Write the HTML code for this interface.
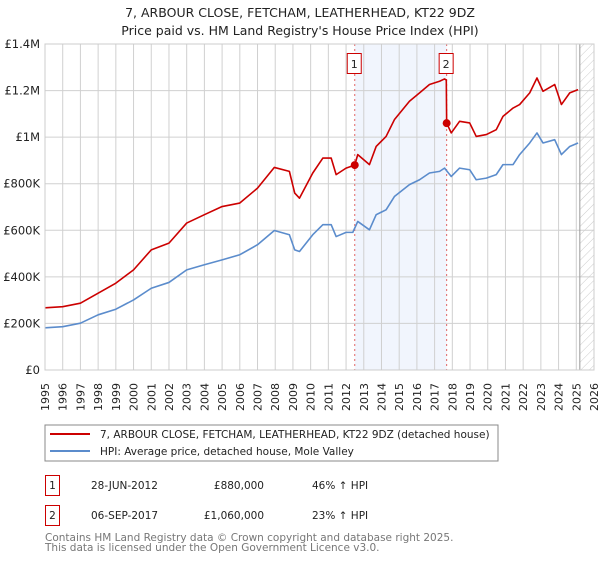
<!DOCTYPE html>
<html><head><meta charset="utf-8">
<style>
body{margin:0;background:#fff;font-family:"DejaVu Sans","Liberation Sans",sans-serif;}
svg text{font-family:"DejaVu Sans","Liberation Sans",sans-serif;}
</style></head>
<body>
<svg id="chart" width="600" height="560" viewBox="0 0 600 560" xmlns="http://www.w3.org/2000/svg">
<defs>
<pattern id="hatch" width="6" height="6" patternUnits="userSpaceOnUse" patternTransform="rotate(45)">
<line x1="0" y1="0" x2="0" y2="6" stroke="#ccc" stroke-width="1"/>
</pattern>
</defs>
<text x="300" y="17" text-anchor="middle" font-size="12.5" fill="#222">7, ARBOUR CLOSE, FETCHAM, LEATHERHEAD, KT22 9DZ</text>
<text x="300" y="35" text-anchor="middle" font-size="12.5" fill="#222">Price paid vs. HM Land Registry's House Price Index (HPI)</text>
<g id="grid"></g>
<g id="series"></g>
<g id="axes"></g>
<rect x="45" y="425" width="453" height="36" fill="#fff" stroke="#888"/>
<line x1="50" y1="434" x2="90" y2="434" stroke="#cc0000" stroke-width="2"/>
<text x="100" y="438" font-size="10.5" fill="#222">7, ARBOUR CLOSE, FETCHAM, LEATHERHEAD, KT22 9DZ (detached house)</text>
<line x1="50" y1="451" x2="90" y2="451" stroke="#5b8ccc" stroke-width="2"/>
<text x="100" y="455" font-size="10.5" fill="#222">HPI: Average price, detached house, Mole Valley</text>
<rect x="45.5" y="475.5" width="14" height="20" fill="#fff" stroke="#cc0000"/>
<text x="52.5" y="489" text-anchor="middle" font-size="10.5" fill="#222">1</text>
<text x="91" y="489" font-size="10.5" fill="#222">28-JUN-2012</text>
<text x="264" y="489" text-anchor="end" font-size="10.5" fill="#222">£880,000</text>
<text x="312" y="489" font-size="10.5" fill="#222">46% ↑ HPI</text>
<rect x="45.5" y="505.5" width="14" height="20" fill="#fff" stroke="#cc0000"/>
<text x="52.5" y="519" text-anchor="middle" font-size="10.5" fill="#222">2</text>
<text x="91" y="519" font-size="10.5" fill="#222">06-SEP-2017</text>
<text x="264" y="519" text-anchor="end" font-size="10.5" fill="#222">£1,060,000</text>
<text x="312" y="519" font-size="10.5" fill="#222">23% ↑ HPI</text>
<text x="45" y="541" font-size="10.5" fill="#777">Contains HM Land Registry data © Crown copyright and database right 2025.</text>
<text x="45" y="551" font-size="10.5" fill="#777">This data is licensed under the Open Government Licence v3.0.</text>
</svg>
<script>
const years=[1995,1996,1997,1998,1999,2000,2001,2002,2003,2004,2005,2006,2007,2007.95,2008.8,2009.1,2009.37,2010.12,2010.69,2011.16,2011.44,2012.0,2012.38,2012.66,2013.32,2013.7,2014.26,2014.73,2015.58,2016.15,2016.71,2017.28,2017.56,2017.94,2018.41,2018.98,2019.35,2019.92,2020.48,2020.86,2021.43,2021.8,2022.37,2022.78,2023.12,2023.78,2024.16,2024.63,2025.1];
const hpiValues=[181,186,201,237,261,301,351,376,430,452,473,495,538,599,581,516,509,581,624,624,573,591,591,638,602,667,688,745,796,817,846,853,867,831,867,860,817,824,839,882,882,925,975,1018,975,989,925,960,975];
const propYears=[1995,1996,1997,1998,1999,2000,2001,2002,2003,2004,2005,2006,2007,2007.95,2008.8,2009.1,2009.37,2010.12,2010.69,2011.16,2011.44,2012.0,2012.49,2012.66,2013.32,2013.7,2014.26,2014.73,2015.58,2016.15,2016.71,2017.28,2017.56,2017.66,2017.68,2017.94,2018.41,2018.98,2019.35,2019.92,2020.48,2020.86,2021.43,2021.8,2022.37,2022.78,2023.12,2023.78,2024.16,2024.63,2025.1];
const propValues=[267,272,287,330,373,430,516,545,631,667,702,717,781,870,853,760,738,846,910,910,839,867,880,925,882,960,1003,1075,1154,1190,1226,1240,1250,1245,1060,1018,1068,1061,1003,1011,1032,1089,1125,1140,1190,1254,1197,1226,1140,1190,1204];
const saleYears=[2012.49,2017.68];
const saleValues=[880,1060];
const saleLabels=["1","2"];
const yTicks=[0,200,400,600,800,1000,1200,1400];
const yTickLabels=["£0","£200K","£400K","£600K","£800K","£1M","£1.2M","£1.4M"];
const xTicks=[1995,1996,1997,1998,1999,2000,2001,2002,2003,2004,2005,2006,2007,2008,2009,2010,2011,2012,2013,2014,2015,2016,2017,2018,2019,2020,2021,2022,2023,2024,2025,2026];

const L=45,R=594,T=44,B=370,X0=1995,X1=2026,YMAX=1400,DATA_END=2025.2;
const xs=y=>L+(y-X0)/(X1-X0)*(R-L);
const ys=v=>B-v/YMAX*(B-T);
const NS="http://www.w3.org/2000/svg";
function mk(tag,attrs,parent){const e=document.createElementNS(NS,tag);for(const k in attrs)e.setAttribute(k,attrs[k]);parent.appendChild(e);return e;}
const grid=document.getElementById('grid'),series=document.getElementById('series'),axes=document.getElementById('axes');

const shade=mk('rect',{x:xs(saleYears[0]),y:T,width:xs(saleYears[1])-xs(saleYears[0]),height:B-T,fill:'#eef3fc',opacity:0.8},grid);


const hatch=mk('rect',{x:xs(DATA_END),y:T,width:R-xs(DATA_END),height:B-T,fill:'url(#hatch)'},grid);



xTicks.forEach(t=>{
  const g=mk('line',{x1:xs(t),y1:T,x2:xs(t),y2:B,stroke:'#d0d0d0','stroke-width':1},grid);
  
  
  const lb=mk('text',{x:0,y:0,'font-size':11,fill:'#222','text-anchor':'end',transform:`translate(${xs(t)+4},${B+13}) rotate(-90)`},axes);
  lb.textContent=t;
  
  
});
yTicks.forEach((t,i)=>{
  const g=mk('line',{x1:L,y1:ys(t),x2:R,y2:ys(t),stroke:'#d0d0d0','stroke-width':1},grid);
  
  
  const lb=mk('text',{x:L-5,y:ys(t)+4,'font-size':11.5,fill:'#222','text-anchor':'end'},axes);
  lb.textContent=yTickLabels[i];
  
  
});
const endLine=mk('line',{x1:xs(DATA_END),y1:T,x2:xs(DATA_END),y2:B,stroke:'#999','stroke-width':1},grid);



saleYears.forEach((s,i)=>{
  const v=mk('line',{x1:xs(s),y1:T,x2:xs(s),y2:B,stroke:'#e06666','stroke-width':1,'stroke-dasharray':'2,3'},grid);
  
  
});

const hp=mk('polyline',{points:years.map((y,i)=>xs(y)+','+ys(hpiValues[i])).join(' '),fill:'none',stroke:'#5b8ccc','stroke-width':1.6,'stroke-linejoin':'round'},series);


const pp=mk('polyline',{points:propYears.map((y,i)=>xs(y)+','+ys(propValues[i])).join(' '),fill:'none',stroke:'#cc0000','stroke-width':1.6,'stroke-linejoin':'round'},series);



saleYears.forEach((s,i)=>{
  const c=mk('circle',{cx:xs(s),cy:ys(saleValues[i]),r:4,fill:'#cc0000'},series);
  
  
  const b=mk('rect',{x:xs(s)-7.5,y:53.5,width:14,height:20,fill:'#fff',stroke:'#cc0000'},series);
  
  
  const t=mk('text',{x:xs(s)-0.5,y:68,'font-size':11,'text-anchor':'middle',fill:'#222'},series);
  t.textContent=saleLabels[i];
  
  
});
const frame=mk('rect',{x:L,y:T,width:R-L,height:B-T,fill:'none',stroke:'#ccc'},axes);


</script>
</body></html>
